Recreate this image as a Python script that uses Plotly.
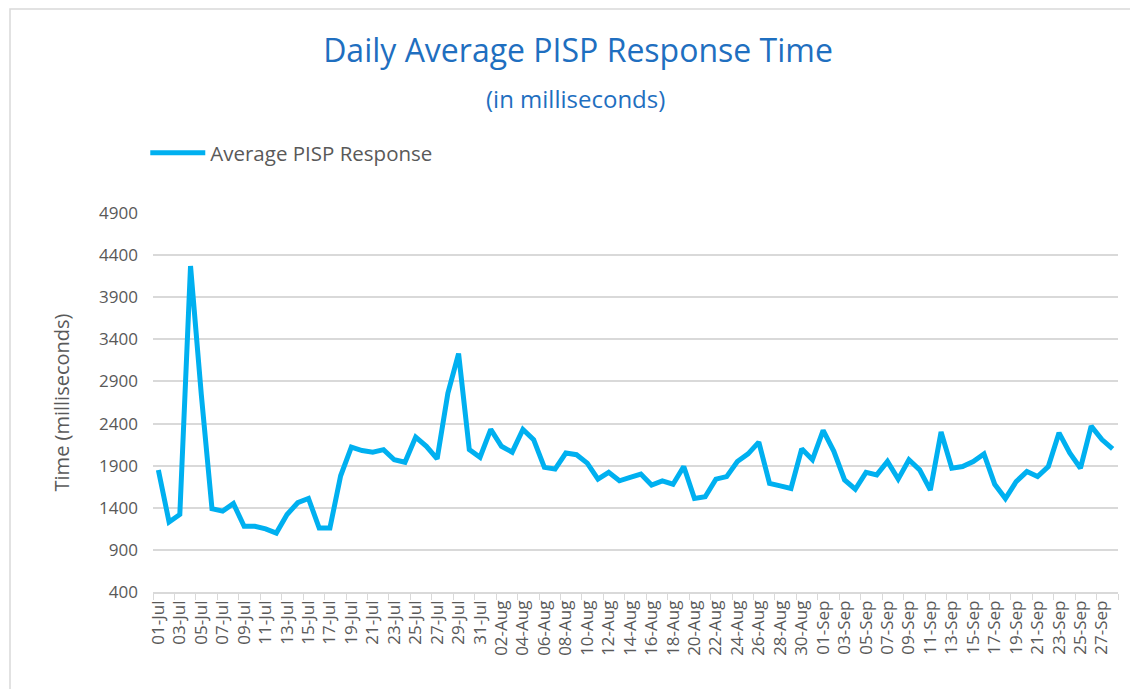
import plotly.graph_objects as go
from datetime import date, timedelta

# ---- data ----
start = date(2023, 7, 1)
dates = [(start + timedelta(days=i)).strftime("%d-%b") for i in range(90)]

response_ms = [
    1850, 1230, 1320, 4270, 2750, 1390, 1360, 1450, 1180, 1180,
    1150, 1100, 1320, 1460, 1510, 1160, 1160, 1780, 2120, 2080,
    2060, 2090, 1970, 1940, 2240, 2130, 1980, 2760, 3230, 2090,
    2000, 2330, 2130, 2060, 2330, 2210, 1880, 1860, 2050, 2030,
    1930, 1740, 1820, 1720, 1760, 1800, 1670, 1720, 1680, 1890,
    1510, 1530, 1740, 1770, 1950, 2040, 2180, 1690, 1660, 1630,
    2100, 1970, 2320, 2070, 1730, 1620, 1820, 1790, 1950, 1740,
    1970, 1850, 1610, 2300, 1870, 1890, 1950, 2040, 1680, 1510,
    1710, 1830, 1770, 1890, 2290, 2050, 1870, 2370, 2210, 2100,
]

y_ticks = [400, 900, 1400, 1900, 2400, 2900, 3400, 3900, 4400, 4900]

# ---- figure ----
FONT = "Open Sans"
GRAY = "#595959"
GRID = "#D9D9D9"
BLUE_T = "#1F6FC0"

# page body has an 8px margin, so the figure is drawn 8px smaller
W, H = 1130, 681

fig = go.Figure()
fig.add_trace(go.Scatter(
    x=dates, y=response_ms, mode="lines", name="Average PISP Response",
    line=dict(color="#00B0F0", width=5),
))

fig.update_layout(
    width=W, height=H,
    margin=dict(l=145, r=20, t=205, b=97, autoexpand=False),
    paper_bgcolor="white", plot_bgcolor="white",
    font=dict(family=FONT, color=GRAY),
    title=dict(text="Daily Average PISP Response Time", x=570 / W, xanchor="center",
               y=1 - 43 / H, yanchor="middle", xref="container", yref="container",
               font=dict(family=FONT, size=32, color=BLUE_T)),
    showlegend=True,
    legend=dict(x=-0.008, xanchor="left", y=(592 - 153) / 379, yanchor="middle",
                itemwidth=55,
                font=dict(family=FONT, size=20.5, color=GRAY), bgcolor="rgba(0,0,0,0)"),
    xaxis=dict(type="category", range=[-0.5, 89.5], tickmode="linear", dtick=2,
               tickson="boundaries", ticks="outside", ticklen=6, tickcolor=GRID,
               tickangle=-90, tickfont=dict(family=FONT, size=17, color=GRAY),
               showgrid=False, showline=True, linecolor=GRID, linewidth=1.5,
               zeroline=False),
    yaxis=dict(range=[400, 4900], tickvals=y_ticks, showgrid=True, gridcolor=GRID,
               gridwidth=1.5, zeroline=False, showline=False, ticks="",
               ticklabelstandoff=14,
               tickfont=dict(family=FONT, size=17, color=GRAY),
               title=dict(text="Time (milliseconds)", standoff=24,
                          font=dict(family=FONT, size=20, color=GRAY))),
)

fig.add_annotation(text="(in milliseconds)", xref="paper", yref="paper",
                   x=(575 - 153) / 965, y=(592 - 99) / 379, showarrow=False,
                   xanchor="center", yanchor="middle",
                   font=dict(family=FONT, size=24, color=BLUE_T))

# chart border (top and left edges visible; bottom/right run off the page)
fig.add_shape(type="rect", xref="paper", yref="paper",
              x0=(10 - 153) / 965, x1=(1160 - 153) / 965,
              y0=(592 - 720) / 379, y1=(592 - 9) / 379,
              line=dict(color=GRID, width=1.5), fillcolor="rgba(0,0,0,0)", layer="below")

fig.write_html("out.html")
